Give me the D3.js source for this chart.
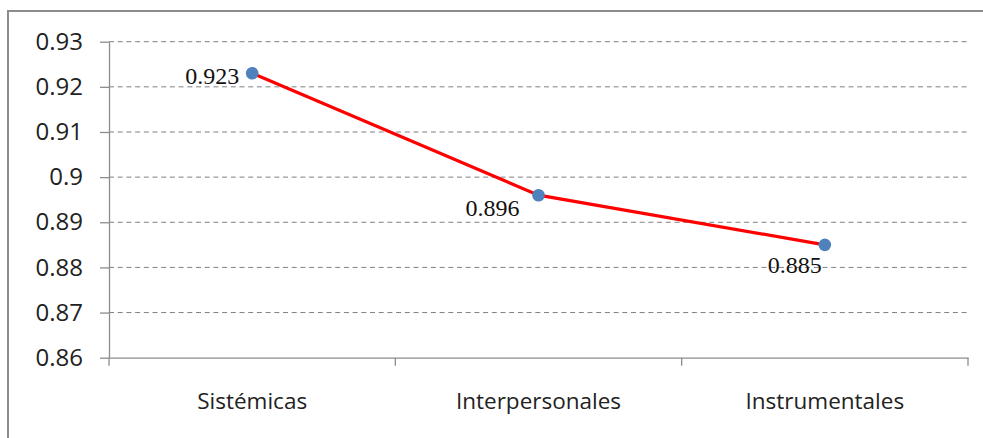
<!DOCTYPE html>
<html>
<head>
<meta charset="utf-8">
<script src="https://cdn.jsdelivr.net/npm/d3@7/dist/d3.min.js"></script>
<style>
  html, body { margin: 0; padding: 0; background: #fff; }
</style>
</head>
<body>
<svg id="chart" width="983" height="438"></svg>
<script>
const categories = ["Sistémicas", "Interpersonales", "Instrumentales"];
const values = [0.923, 0.896, 0.885];
const yTicks = [0.86, 0.87, 0.88, 0.89, 0.9, 0.91, 0.92, 0.93];
const yTickLabels = ["0.86", "0.87", "0.88", "0.89", "0.9", "0.91", "0.92", "0.93"];

// hand placed data label offsets, relative to each point
const labelOffsets = [[-13, 11, "end"], [-19, 21, "end"], [-3, 28, "end"]];

const svg = d3.select("#chart");
const margin = { left: 109, right: 15, top: 41.7, bottom: 80.3 };
const W = 983, H = 438;

// outer chart border
svg.append("rect")
    .attr("x", 8).attr("y", 11)
    .attr("width", 990).attr("height", 440)
    .attr("fill", "none")
    .attr("stroke", "#8c8c8c")
    .attr("stroke-width", 2);

const x = d3.scaleBand()
    .domain(categories)
    .range([margin.left, W - margin.right])
    .padding(0);

const y = d3.scaleLinear()
    .domain([0.86, 0.93])
    .range([H - margin.bottom, margin.top]);

// gridlines
svg.append("g")
    .selectAll("line")
    .data(yTicks.slice(1))
    .join("line")
    .attr("x1", margin.left)
    .attr("x2", W - margin.right)
    .attr("y1", d => y(d))
    .attr("y2", d => y(d))
    .attr("stroke", "#808080")
    .attr("stroke-width", 1)
    .attr("stroke-dasharray", "5,3.7");

// y axis
const yAxis = svg.append("g")
    .attr("transform", `translate(${margin.left},0)`)
    .call(d3.axisLeft(y).tickValues(yTicks)
        .tickFormat((d, i) => yTickLabels[i])
        .tickSize(9).tickSizeOuter(0).tickPadding(17));

// x axis
const xAxis = svg.append("g")
    .attr("transform", `translate(0,${y(0.86)})`)
    .call(d3.axisBottom(x).tickSize(0).tickPadding(35).tickSizeOuter(0));

xAxis.selectAll(".tick line").remove();
// category boundary ticks
xAxis.selectAll(".bound")
    .data([0, 1, 2, 3])
    .join("line")
    .attr("class", "bound")
    .attr("x1", i => margin.left + i * x.step())
    .attr("x2", i => margin.left + i * x.step())
    .attr("y1", 0).attr("y2", 8)
    .attr("stroke", "#8c8c8c");

[yAxis, xAxis].forEach(g => {
    g.selectAll(".domain, line").attr("stroke", "#8c8c8c").attr("stroke-width", 1.3);
    g.selectAll("text")
        .attr("fill", "#222")
        .style("font-family", "'Open Sans', 'Noto Sans', sans-serif");
});
yAxis.selectAll("text").style("font-size", "24px");
xAxis.selectAll("text").style("font-size", "22.5px");

const cx = d => x(d) + x.bandwidth() / 2;

// line
svg.append("path")
    .datum(values)
    .attr("fill", "none")
    .attr("stroke", "#ff0000")
    .attr("stroke-width", 3.2)
    .attr("d", d3.line().x((d, i) => cx(categories[i])).y(d => y(d)));

// markers
svg.append("g")
    .selectAll("circle")
    .data(values)
    .join("circle")
    .attr("cx", (d, i) => cx(categories[i]))
    .attr("cy", d => y(d))
    .attr("r", 6.3)
    .attr("fill", "#4f81bd");

// data labels
svg.append("g")
    .selectAll("text")
    .data(values)
    .join("text")
    .attr("x", (d, i) => cx(categories[i]) + labelOffsets[i][0])
    .attr("y", (d, i) => y(d) + labelOffsets[i][1])
    .attr("text-anchor", (d, i) => labelOffsets[i][2])
    .style("font-family", "'Liberation Serif', 'DejaVu Serif', serif")
    .style("font-size", "24px")
    .attr("fill", "#111")
    .text(d => d3.format(".3f")(d));
</script>
</body>
</html>
